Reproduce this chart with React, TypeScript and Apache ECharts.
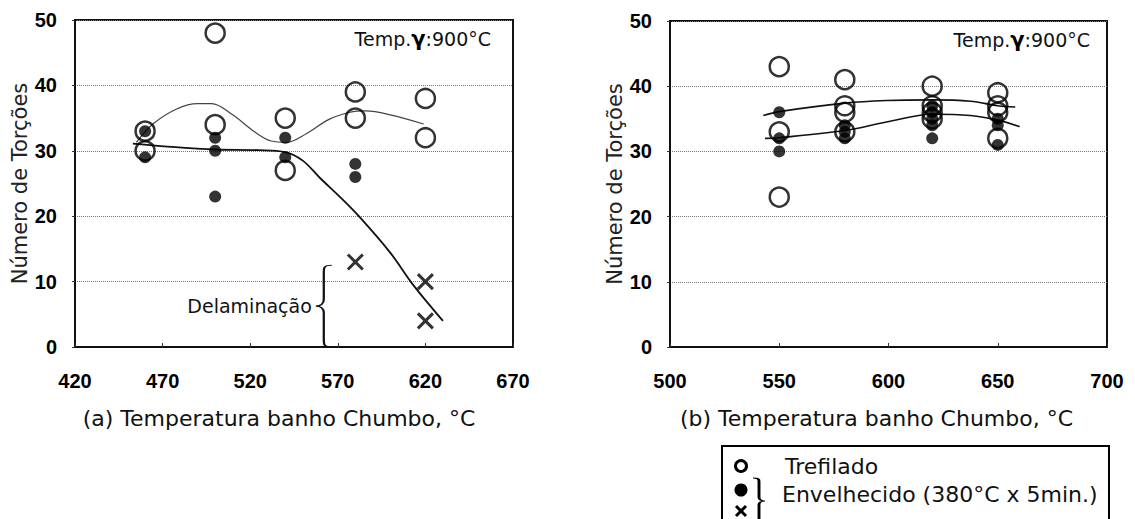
import React, { useEffect, useRef } from "react";
import * as echarts from "echarts";

// ---------- data: chart (a) ----------
const xTicksA = [420, 470, 520, 570, 620, 670];
const trefiladoA = [
  [460, 33], [460, 30], [500, 48], [500, 34], [540, 35], [540, 27],
  [580, 39], [580, 35], [620, 38], [620, 32],
];
const envelhecidoA = [
  [460, 33], [460, 29], [500, 32], [500, 30], [500, 23],
  [540, 32], [540, 29], [580, 28], [580, 26],
];
const delaminacaoA = [[580, 13], [620, 10], [620, 4]];
const fitTrefiladoA = [
  [455, 31.3], [465, 34.2], [478, 36.4], [490, 37.2], [498, 37.2], [510, 35.5],
  [522, 33], [532, 31.5], [541, 31.3], [552, 32.6], [565, 34.8], [577, 35.9],
  [586, 36.1], [600, 35.5], [619, 34.1],
];
const fitEnvelhecidoA = [
  [453, 31.1], [475, 30.6], [500, 30.2], [525, 30.1], [540, 29.8], [550, 28.5],
  [560, 25.8], [571, 23], [582, 20], [600, 14.4], [613, 9.5], [630, 4],
];
const delamBraceA = { x: 562, top: 12.5, bottom: 0 };

// ---------- data: chart (b) ----------
const xTicksB = [500, 550, 600, 650, 700];
const trefiladoB = [
  [550, 43], [550, 33], [550, 23], [580, 41], [580, 37], [580, 36], [580, 33],
  [620, 40], [620, 37], [620, 36], [620, 35], [650, 39], [650, 37], [650, 36], [650, 32],
];
const envelhecidoB = [
  [550, 36], [550, 32], [550, 30], [580, 34], [580, 33], [580, 32],
  [620, 37], [620, 36], [620, 35], [620, 34], [620, 32], [650, 35], [650, 34], [650, 31],
];
const fitUpperB = [
  [542.7, 35.5], [550, 36.1], [580, 37.4], [599, 37.8], [620, 37.9], [637.5, 37.7], [650, 37.0], [658, 36.8],
];
const fitLowerB = [
  [543.5, 32], [550, 32.1], [580, 33.2], [599, 34.5], [620, 35.7], [637.5, 35.5], [650, 34.8], [660, 33.8],
];

const yTicks = [0, 10, 20, 30, 40, 50];

// ---------- texts ----------
const yTitle = "Número de Torções";
const xTitleA = "(a) Temperatura banho Chumbo, °C";
const xTitleB = "(b) Temperatura banho Chumbo, °C";
const tempLabel = "Temp.{b|γ}:900°C";
const delamLabel = "Delaminação";
const legendTrefilado = "Trefilado";
const legendEnvelhecido = "Envelhecido (380°C x 5min.)";

const TEXT_FONT = "DejaVu Sans";
const TICK_FONT = "Liberation Sans";

const BRACE_L = "M10,0 C5,0 5,3 5,8 L5,42 C5,47 3,50 0,50 C3,50 5,53 5,58 L5,92 C5,97 5,100 10,100";
const BRACE_R = "M0,0 C5,0 5,3 5,8 L5,42 C5,47 7,50 10,50 C7,50 5,53 5,58 L5,92 C5,97 5,100 0,100";
echarts.graphic.registerShape("braceL", echarts.graphic.extendPath(BRACE_L, {}));
echarts.graphic.registerShape("braceR", echarts.graphic.extendPath(BRACE_R, {}));

const CROSS = "path://M0,0L10,10M10,0L0,10";

const GRID_A = { left: 75, top: 20, width: 438, height: 327 };
const GRID_B = { left: 670, top: 21, width: 437, height: 326 };

function xAxisOf(gridIndex: number, ticks: number[], name: string, shift: number) {
  return {
    type: "value",
    gridIndex,
    min: ticks[0],
    max: ticks[ticks.length - 1],
    interval: ticks[1] - ticks[0],
    name,
    nameLocation: "middle",
    nameGap: 60,
    nameTextStyle: {
      fontFamily: TEXT_FONT,
      fontSize: 22,
      color: "#111",
      padding: [0, shift, 0, 0],
    },
    axisLine: { show: true, lineStyle: { color: "#111", width: 2 } },
    axisTick: { show: true, inside: true, length: 4, lineStyle: { color: "#333" } },
    axisLabel: {
      fontFamily: TICK_FONT,
      fontWeight: "bold",
      fontSize: 20,
      color: "#000",
      margin: 24,
    },
    splitLine: { show: false },
  };
}

function yAxisOf(gridIndex: number) {
  return {
    type: "value",
    gridIndex,
    min: yTicks[0],
    max: yTicks[yTicks.length - 1],
    interval: yTicks[1] - yTicks[0],
    name: yTitle,
    nameLocation: "middle",
    nameRotate: 90,
    nameGap: 40,
    nameTextStyle: { fontFamily: TEXT_FONT, fontSize: 21, color: "#222" },
    axisLine: { show: true, lineStyle: { color: "#111", width: 2 } },
    axisTick: { show: true, length: 3, lineStyle: { color: "#333" } },
    axisLabel: {
      fontFamily: TICK_FONT,
      fontWeight: "bold",
      fontSize: 20,
      color: "#000",
      margin: 18,
    },
    splitLine: { show: true, lineStyle: { type: "dotted", color: "#777", width: 1 } },
  };
}

function openCircles(data: number[][], idx: number) {
  return {
    type: "scatter",
    xAxisIndex: idx,
    yAxisIndex: idx,
    data,
    symbol: "circle",
    symbolSize: 19,
    itemStyle: { color: "rgba(0,0,0,0)", borderColor: "#000", borderWidth: 2.5 },
    z: 4,
  };
}
function filledCircles(data: number[][], idx: number) {
  return {
    type: "scatter",
    xAxisIndex: idx,
    yAxisIndex: idx,
    data,
    symbol: "circle",
    symbolSize: 12,
    itemStyle: { color: "#000" },
    z: 3,
  };
}
function fitLine(data: number[][], idx: number, width: number, color: string) {
  return {
    type: "line",
    xAxisIndex: idx,
    yAxisIndex: idx,
    data,
    smooth: 0.35,
    showSymbol: false,
    symbol: "none",
    lineStyle: { color, width },
    z: 2,
  };
}

export default function App() {
  const ref = useRef<HTMLDivElement>(null);
  useEffect(() => {
    if (!ref.current) return;
    const chart = echarts.init(ref.current, null, { renderer: "svg" });
    chart.setOption({
      animation: false,
      backgroundColor: "#fff",
      grid: [
        { ...GRID_A, show: true, borderColor: "#111", borderWidth: 2, backgroundColor: "transparent" },
        { ...GRID_B, show: true, borderColor: "#111", borderWidth: 2, backgroundColor: "transparent" },
      ],
      xAxis: [xAxisOf(0, xTicksA, xTitleA, 30), xAxisOf(1, xTicksB, xTitleB, 24)],
      yAxis: [yAxisOf(0), yAxisOf(1)],
      series: [
        fitLine(fitTrefiladoA, 0, 1.2, "#444"),
        fitLine(fitEnvelhecidoA, 0, 1.8, "#111"),
        openCircles(trefiladoA, 0),
        filledCircles(envelhecidoA, 0),
        {
          type: "scatter",
          xAxisIndex: 0,
          yAxisIndex: 0,
          data: delaminacaoA,
          symbol: CROSS,
          symbolSize: 15,
          itemStyle: { color: "rgba(0,0,0,0)", borderColor: "#000", borderWidth: 3 },
          z: 4,
        },
        fitLine(fitUpperB, 1, 1.6, "#111"),
        fitLine(fitLowerB, 1, 1.6, "#111"),
        openCircles(trefiladoB, 1),
        filledCircles(envelhecidoB, 1),
      ],
    });

    const pTop = chart.convertToPixel({ gridIndex: 0 }, [delamBraceA.x, delamBraceA.top]) as number[];
    const pBot = chart.convertToPixel({ gridIndex: 0 }, [delamBraceA.x, delamBraceA.bottom]) as number[];
    const braceH = pBot[1] - pTop[1];
    const braceW = 16;
    const braceX = pTop[0] - braceW / 2;

    const aRight = GRID_A.left + GRID_A.width;
    const bRight = GRID_B.left + GRID_B.width;
    const tempStyle = {
      fontFamily: TEXT_FONT,
      fontSize: 19,
      fill: "#111",
      align: "right",
      verticalAlign: "middle",
      rich: { b: { fontFamily: TEXT_FONT, fontSize: 21, fontWeight: "bold", fill: "#000" } },
    };

    const LX = 722;
    const LY = 446;
    chart.setOption({
      graphic: [
        { type: "text", x: aRight - 22, y: GRID_A.top + 19, style: { ...tempStyle, text: tempLabel } },
        { type: "text", x: bRight - 17, y: GRID_B.top + 19, style: { ...tempStyle, text: tempLabel } },
        {
          type: "braceL",
          x: braceX,
          y: pTop[1],
          scaleX: braceW / 10,
          scaleY: braceH / 100,
          style: { fill: "none", stroke: "#111", lineWidth: 1.6, strokeNoScale: true },
          z: 10,
        },
        {
          type: "text",
          x: braceX - 4,
          y: pTop[1] + braceH / 2,
          style: {
            text: delamLabel,
            fontFamily: TEXT_FONT,
            fontSize: 19,
            fill: "#111",
            align: "right",
            verticalAlign: "middle",
          },
          z: 10,
        },
        // legend box
        {
          type: "group",
          x: LX,
          y: LY,
          children: [
            {
              type: "rect",
              shape: { x: 0, y: 0, width: 387, height: 110 },
              style: { fill: "#fff", stroke: "#000", lineWidth: 2 },
            },
            {
              type: "circle",
              shape: { cx: 19, cy: 20, r: 5.5 },
              style: { fill: "none", stroke: "#000", lineWidth: 3 },
            },
            {
              type: "circle",
              shape: { cx: 19, cy: 44, r: 6.5 },
              style: { fill: "#000" },
            },
            {
              type: "line",
              shape: { x1: 14, y1: 60, x2: 24, y2: 70 },
              style: { stroke: "#000", lineWidth: 3 },
            },
            {
              type: "line",
              shape: { x1: 24, y1: 60, x2: 14, y2: 70 },
              style: { stroke: "#000", lineWidth: 3 },
            },
            {
              type: "braceR",
              x: 31,
              y: 32,
              scaleX: 1.2,
              scaleY: 0.46,
              style: { fill: "none", stroke: "#000", lineWidth: 1.8, strokeNoScale: true },
            },
            {
              type: "text",
              x: 63,
              y: 20,
              style: {
                text: legendTrefilado,
                fontFamily: TEXT_FONT,
                fontSize: 22,
                fill: "#111",
                verticalAlign: "middle",
              },
            },
            {
              type: "text",
              x: 60,
              y: 48,
              style: {
                text: legendEnvelhecido,
                fontFamily: TEXT_FONT,
                fontSize: 22,
                fill: "#111",
                verticalAlign: "middle",
              },
            },
          ],
        },
      ],
    });
    return () => chart.dispose();
  }, []);
  return (
    <div
      ref={ref}
      style={{ position: "absolute", left: 0, top: 0, width: 1135, height: 519, background: "#fff" }}
    />
  );
}
